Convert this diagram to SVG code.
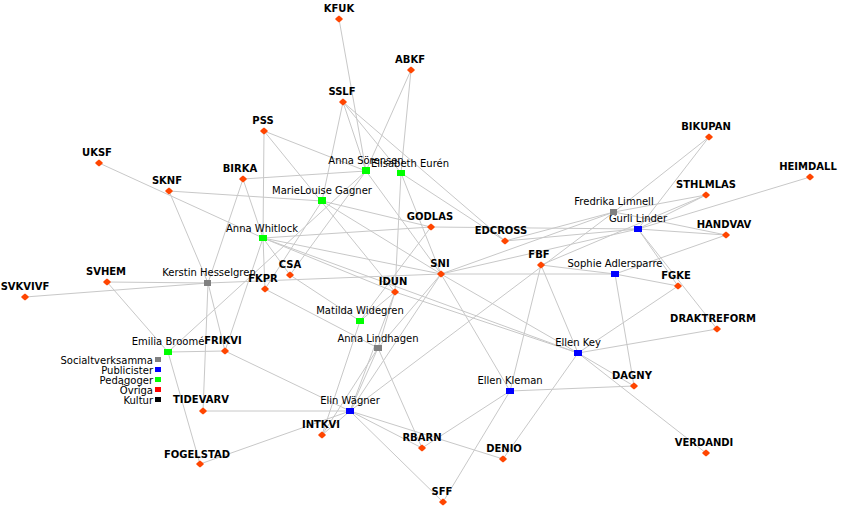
<svg xmlns="http://www.w3.org/2000/svg" width="841" height="520" viewBox="0 0 841 520">
<style>
.e line{stroke:#c8c8c8;stroke-width:1}
.o text{font:bold 10px "DejaVu Sans",sans-serif;text-anchor:middle;fill:#000}
.p text{font:10px "DejaVu Sans",sans-serif;text-anchor:middle;fill:#000}
.o use{fill:#ff4500}
.l text{font:10px "DejaVu Sans",sans-serif;text-anchor:end;fill:#000}
</style>
<defs><path id="d" d="M-4,0 L-2,-2 L0,-3.5 L2,-2 L4,0 L2,2 L0,3.5 L-2,2Z"/></defs>
<rect width="841" height="520" fill="#fff"/>
<g class="e">
<line x1="339" y1="19" x2="366" y2="171"/>
<line x1="411" y1="70" x2="366" y2="171"/>
<line x1="411" y1="70" x2="401" y2="173"/>
<line x1="343" y1="102" x2="366" y2="171"/>
<line x1="343" y1="102" x2="401" y2="173"/>
<line x1="343" y1="102" x2="322" y2="201"/>
<line x1="343" y1="102" x2="505" y2="241"/>
<line x1="264" y1="131" x2="366" y2="171"/>
<line x1="264" y1="131" x2="263" y2="238"/>
<line x1="264" y1="131" x2="395" y2="292"/>
<line x1="99" y1="163" x2="263" y2="238"/>
<line x1="169" y1="191" x2="322" y2="201"/>
<line x1="169" y1="191" x2="208" y2="283"/>
<line x1="243" y1="179" x2="366" y2="171"/>
<line x1="243" y1="179" x2="263" y2="238"/>
<line x1="243" y1="179" x2="208" y2="283"/>
<line x1="263" y1="238" x2="431" y2="227"/>
<line x1="263" y1="238" x2="441" y2="274"/>
<line x1="263" y1="238" x2="395" y2="292"/>
<line x1="263" y1="238" x2="578" y2="353"/>
<line x1="263" y1="238" x2="265" y2="289"/>
<line x1="263" y1="238" x2="225" y2="351"/>
<line x1="263" y1="238" x2="290" y2="275"/>
<line x1="322" y1="201" x2="431" y2="227"/>
<line x1="322" y1="201" x2="441" y2="274"/>
<line x1="322" y1="201" x2="265" y2="289"/>
<line x1="366" y1="171" x2="290" y2="275"/>
<line x1="366" y1="171" x2="441" y2="274"/>
<line x1="366" y1="171" x2="168" y2="352"/>
<line x1="401" y1="173" x2="505" y2="241"/>
<line x1="401" y1="173" x2="395" y2="292"/>
<line x1="401" y1="173" x2="441" y2="274"/>
<line x1="431" y1="227" x2="638" y2="229"/>
<line x1="431" y1="227" x2="360" y2="321"/>
<line x1="208" y1="283" x2="107" y2="282"/>
<line x1="208" y1="283" x2="25" y2="297"/>
<line x1="208" y1="283" x2="441" y2="274"/>
<line x1="208" y1="283" x2="203" y2="411"/>
<line x1="208" y1="283" x2="225" y2="351"/>
<line x1="168" y1="352" x2="107" y2="282"/>
<line x1="168" y1="352" x2="225" y2="351"/>
<line x1="168" y1="352" x2="200" y2="464"/>
<line x1="225" y1="351" x2="350" y2="411"/>
<line x1="203" y1="411" x2="350" y2="411"/>
<line x1="200" y1="464" x2="350" y2="411"/>
<line x1="350" y1="411" x2="322" y2="435"/>
<line x1="350" y1="411" x2="422" y2="448"/>
<line x1="350" y1="411" x2="443" y2="502"/>
<line x1="350" y1="411" x2="503" y2="459"/>
<line x1="350" y1="411" x2="378" y2="348"/>
<line x1="350" y1="411" x2="441" y2="274"/>
<line x1="350" y1="411" x2="614" y2="212"/>
<line x1="350" y1="411" x2="395" y2="292"/>
<line x1="360" y1="321" x2="290" y2="275"/>
<line x1="360" y1="321" x2="395" y2="292"/>
<line x1="360" y1="321" x2="322" y2="435"/>
<line x1="378" y1="348" x2="265" y2="289"/>
<line x1="378" y1="348" x2="422" y2="448"/>
<line x1="378" y1="348" x2="395" y2="292"/>
<line x1="378" y1="348" x2="441" y2="274"/>
<line x1="378" y1="348" x2="322" y2="435"/>
<line x1="510" y1="391" x2="441" y2="274"/>
<line x1="510" y1="391" x2="541" y2="265"/>
<line x1="510" y1="391" x2="634" y2="386"/>
<line x1="510" y1="391" x2="422" y2="448"/>
<line x1="510" y1="391" x2="443" y2="502"/>
<line x1="578" y1="353" x2="441" y2="274"/>
<line x1="578" y1="353" x2="541" y2="265"/>
<line x1="578" y1="353" x2="678" y2="286"/>
<line x1="578" y1="353" x2="717" y2="329"/>
<line x1="578" y1="353" x2="634" y2="386"/>
<line x1="578" y1="353" x2="706" y2="453"/>
<line x1="578" y1="353" x2="503" y2="459"/>
<line x1="578" y1="353" x2="395" y2="292"/>
<line x1="615" y1="274" x2="441" y2="274"/>
<line x1="615" y1="274" x2="541" y2="265"/>
<line x1="615" y1="274" x2="678" y2="286"/>
<line x1="615" y1="274" x2="634" y2="386"/>
<line x1="615" y1="274" x2="726" y2="235"/>
<line x1="638" y1="229" x2="709" y2="137"/>
<line x1="638" y1="229" x2="810" y2="177"/>
<line x1="638" y1="229" x2="706" y2="195"/>
<line x1="638" y1="229" x2="726" y2="235"/>
<line x1="638" y1="229" x2="505" y2="241"/>
<line x1="638" y1="229" x2="678" y2="286"/>
<line x1="638" y1="229" x2="717" y2="329"/>
<line x1="638" y1="229" x2="441" y2="274"/>
<line x1="614" y1="212" x2="709" y2="137"/>
<line x1="614" y1="212" x2="706" y2="195"/>
<line x1="614" y1="212" x2="726" y2="235"/>
<line x1="614" y1="212" x2="505" y2="241"/>
<line x1="614" y1="212" x2="441" y2="274"/>
<line x1="706" y1="195" x2="541" y2="265"/>
</g>
<g class="o">
<g id="KFUK"><use href="#d" x="339" y="19"/><text x="339" y="12">KFUK</text></g>
<g id="ABKF"><use href="#d" x="411" y="70"/><text x="410" y="63">ABKF</text></g>
<g id="SSLF"><use href="#d" x="343" y="102"/><text x="342" y="95">SSLF</text></g>
<g id="PSS"><use href="#d" x="264" y="131"/><text x="263" y="124">PSS</text></g>
<g id="UKSF"><use href="#d" x="99" y="163"/><text x="97" y="156">UKSF</text></g>
<g id="SKNF"><use href="#d" x="169" y="191"/><text x="167" y="184">SKNF</text></g>
<g id="BIRKA"><use href="#d" x="243" y="179"/><text x="240" y="172">BIRKA</text></g>
<g id="GODLAS"><use href="#d" x="431" y="227"/><text x="430" y="220">GODLAS</text></g>
<g id="EDCROSS"><use href="#d" x="505" y="241"/><text x="501" y="234">EDCROSS</text></g>
<g id="BIKUPAN"><use href="#d" x="709" y="137"/><text x="706" y="130">BIKUPAN</text></g>
<g id="HEIMDALL"><use href="#d" x="810" y="177"/><text x="808" y="170">HEIMDALL</text></g>
<g id="STHLMLAS"><use href="#d" x="706" y="195"/><text x="706" y="188">STHLMLAS</text></g>
<g id="HANDVAV"><use href="#d" x="726" y="235"/><text x="724" y="228">HANDVAV</text></g>
<g id="SNI"><use href="#d" x="441" y="274"/><text x="440" y="267">SNI</text></g>
<g id="FBF"><use href="#d" x="541" y="265"/><text x="539" y="258">FBF</text></g>
<g id="FGKE"><use href="#d" x="678" y="286"/><text x="676" y="279">FGKE</text></g>
<g id="IDUN"><use href="#d" x="395" y="292"/><text x="393" y="285">IDUN</text></g>
<g id="CSA"><use href="#d" x="290" y="275"/><text x="290" y="268">CSA</text></g>
<g id="FKPR"><use href="#d" x="265" y="289"/><text x="263" y="282">FKPR</text></g>
<g id="SVHEM"><use href="#d" x="107" y="282"/><text x="106" y="275">SVHEM</text></g>
<g id="SVKVIVF"><use href="#d" x="25" y="297"/><text x="25" y="290">SVKVIVF</text></g>
<g id="FRIKVI"><use href="#d" x="225" y="351"/><text x="223" y="344">FRIKVI</text></g>
<g id="DRAKTREFORM"><use href="#d" x="717" y="329"/><text x="713" y="322">DRAKTREFORM</text></g>
<g id="DAGNY"><use href="#d" x="634" y="386"/><text x="632" y="379">DAGNY</text></g>
<g id="TIDEVARV"><use href="#d" x="203" y="411"/><text x="201" y="403">TIDEVARV</text></g>
<g id="INTKVI"><use href="#d" x="322" y="435"/><text x="321" y="428">INTKVI</text></g>
<g id="RBARN"><use href="#d" x="422" y="448"/><text x="422" y="441">RBARN</text></g>
<g id="DENIO"><use href="#d" x="503" y="459"/><text x="504" y="452">DENIO</text></g>
<g id="FOGELSTAD"><use href="#d" x="200" y="464"/><text x="197" y="458">FOGELSTAD</text></g>
<g id="VERDANDI"><use href="#d" x="706" y="453"/><text x="704" y="446">VERDANDI</text></g>
<g id="SFF"><use href="#d" x="443" y="502"/><text x="442" y="495">SFF</text></g>
</g>
<g class="p">
<g id="AnnaSorensen"><rect x="362" y="167" width="8" height="7" fill="#00ff00"/><text x="366" y="164">Anna Sörensen</text></g>
<g id="ElisabethEuren"><rect x="397" y="170" width="8" height="6" fill="#00ff00"/><text x="410" y="167">Elisabeth Eurén</text></g>
<g id="MarieLouiseGagner"><rect x="318" y="197" width="8" height="7" fill="#00ff00"/><text x="322" y="194">MarieLouise Gagner</text></g>
<g id="AnnaWhitlock"><rect x="259" y="235" width="8" height="6" fill="#00ff00"/><text x="262" y="232">Anna Whitlock</text></g>
<g id="KerstinHesselgren"><rect x="204" y="280" width="7" height="6" fill="#808080"/><text x="209" y="276">Kerstin Hesselgren</text></g>
<g id="EmiliaBroome"><rect x="164" y="349" width="8" height="6" fill="#00ff00"/><text x="168" y="345">Emilia Broomé</text></g>
<g id="MatildaWidegren"><rect x="356" y="318" width="8" height="6" fill="#00ff00"/><text x="360" y="314">Matilda Widegren</text></g>
<g id="AnnaLindhagen"><rect x="374" y="345" width="8" height="6" fill="#808080"/><text x="378" y="342">Anna Lindhagen</text></g>
<g id="ElinWagner"><rect x="346" y="408" width="8" height="6" fill="#0000ff"/><text x="350" y="404">Elin Wägner</text></g>
<g id="EllenKleman"><rect x="506" y="388" width="8" height="6" fill="#0000ff"/><text x="510" y="384">Ellen Kleman</text></g>
<g id="EllenKey"><rect x="574" y="350" width="8" height="6" fill="#0000ff"/><text x="578" y="346">Ellen Key</text></g>
<g id="SophieAdlersparre"><rect x="611" y="271" width="8" height="6" fill="#0000ff"/><text x="615" y="267">Sophie Adlersparre</text></g>
<g id="GurliLinder"><rect x="634" y="226" width="8" height="6" fill="#0000ff"/><text x="638" y="222">Gurli Linder</text></g>
<g id="FredrikaLimnell"><rect x="610" y="209" width="7" height="6" fill="#808080"/><text x="614" y="205">Fredrika Limnell</text></g>
</g>
<g class="l" id="legend">
<rect x="155" y="357" width="6" height="5" fill="#808080"/><text x="153" y="364">Socialtverksamma</text>
<rect x="155" y="367" width="6" height="5" fill="#0000ff"/><text x="153" y="374">Publicister</text>
<rect x="155" y="377" width="6" height="5" fill="#00ff00"/><text x="153" y="384">Pedagoger</text>
<rect x="155" y="387" width="6" height="5" fill="#ff0000"/><text x="153" y="394">Övriga</text>
<rect x="155" y="397" width="6" height="5" fill="#000000"/><text x="153" y="404">Kultur</text>
</g>
</svg>
